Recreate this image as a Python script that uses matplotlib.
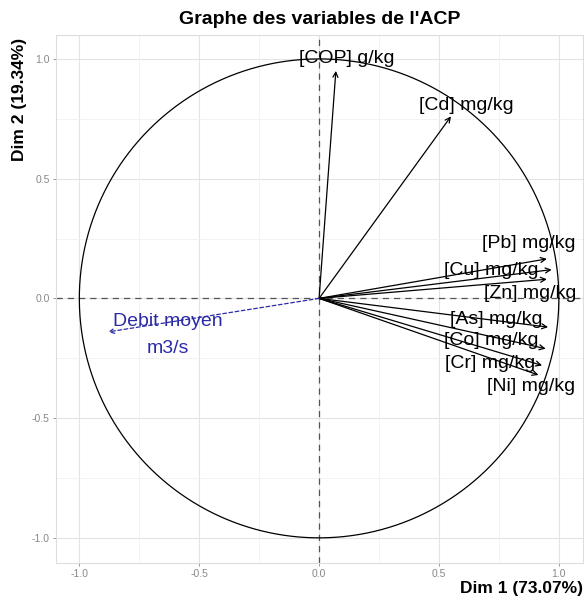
import numpy as np
import matplotlib
matplotlib.use("Agg")
import matplotlib.pyplot as plt

plt.rcParams['font.family'] = ['Liberation Sans', 'DejaVu Sans']

# Coordinates of the variables on Dim 1 / Dim 2
variables = ["[COP] g/kg", "[Cd] mg/kg", "[Pb] mg/kg", "[Cu] mg/kg", "[Zn] mg/kg",
             "[As] mg/kg", "[Co] mg/kg", "[Cr] mg/kg", "[Ni] mg/kg", "Debit moyen\nm3/s"]
dim1 = [0.07, 0.55, 0.95, 0.97, 0.95, 0.955, 0.945, 0.93, 0.915, -0.88]
dim2 = [0.95, 0.76, 0.165, 0.12, 0.08, -0.12, -0.21, -0.28, -0.32, -0.14]
supplementary = [False] * 9 + [True]

# label offsets (data units), repel-like placement of the text
label_dx = [0.046, 0.063, -0.075, -0.254, -0.07, -0.217, -0.225, -0.217, -0.033, 0.25]
label_dy = [0.05, 0.046, 0.063, -0.004, -0.059, 0.03, 0.033, 0.008, -0.046, -0.013]

fig = plt.figure(figsize=(5.84, 6.02), dpi=100)
ax = fig.add_axes([0.096, 0.0648, 0.902, 0.8771])

ax.set_xlim(-1.097, 1.10)
ax.set_ylim(-1.105, 1.10)

# grid
for v in [-1.0, -0.5, 0.0, 0.5, 1.0]:
    ax.axvline(v, color='#e3e3e3', lw=0.8, zorder=0)
    ax.axhline(v, color='#e3e3e3', lw=0.8, zorder=0)
for v in [-0.75, -0.25, 0.25, 0.75]:
    ax.axvline(v, color='#f1f1f1', lw=0.6, zorder=0)
    ax.axhline(v, color='#f1f1f1', lw=0.6, zorder=0)

ax.axhline(0, color='#555555', lw=0.9, ls=(0, (5, 4)), zorder=1)
ax.axvline(0, color='#555555', lw=0.9, ls=(0, (5, 4)), zorder=1)

t = np.linspace(0, 2 * np.pi, 400)
ax.plot(np.cos(t), np.sin(t), color='black', lw=0.9, zorder=2)

for name, x, y, sup, dx, dy in zip(variables, dim1, dim2, supplementary, label_dx, label_dy):
    col = '#2b2ba6' if sup else 'black'
    ls = (0, (3, 2)) if sup else '-'
    ax.annotate('', xy=(x, y), xytext=(0, 0),
                arrowprops=dict(arrowstyle='->', color=col, lw=0.9, linestyle=ls,
                                shrinkA=0, shrinkB=0, mutation_scale=9), zorder=3)
    ax.text(x + dx, y + dy, name, ha='center', va='center', fontsize=14,
            color=col, linespacing=1.7, zorder=4)

ax.set_xticks([-1.0, -0.5, 0.0, 0.5, 1.0])
ax.set_yticks([-1.0, -0.5, 0.0, 0.5, 1.0])
ax.set_xticklabels(['-1.0', '-0.5', '0.0', '0.5', '1.0'])
ax.set_yticklabels(['-1.0', '-0.5', '0.0', '0.5', '1.0'])
ax.tick_params(colors='#888888', labelsize=7.5, length=2.5, width=0.6, pad=2)
for s in ax.spines.values():
    s.set_color('#dddddd')
    s.set_linewidth(0.8)

fig.text(0.548, 0.967, "Graphe des variables de l'ACP", ha='center', va='center',
         fontsize=14, fontweight='bold')
fig.text(0.999, 0.022, 'Dim 1 (73.07%)', ha='right', va='center',
         fontsize=12.5, fontweight='bold')
fig.text(0.033, 0.937, 'Dim 2 (19.34%)', ha='center', va='top', rotation=90,
         fontsize=12.5, fontweight='bold')

fig.savefig('out.png', dpi=100, facecolor='white')
